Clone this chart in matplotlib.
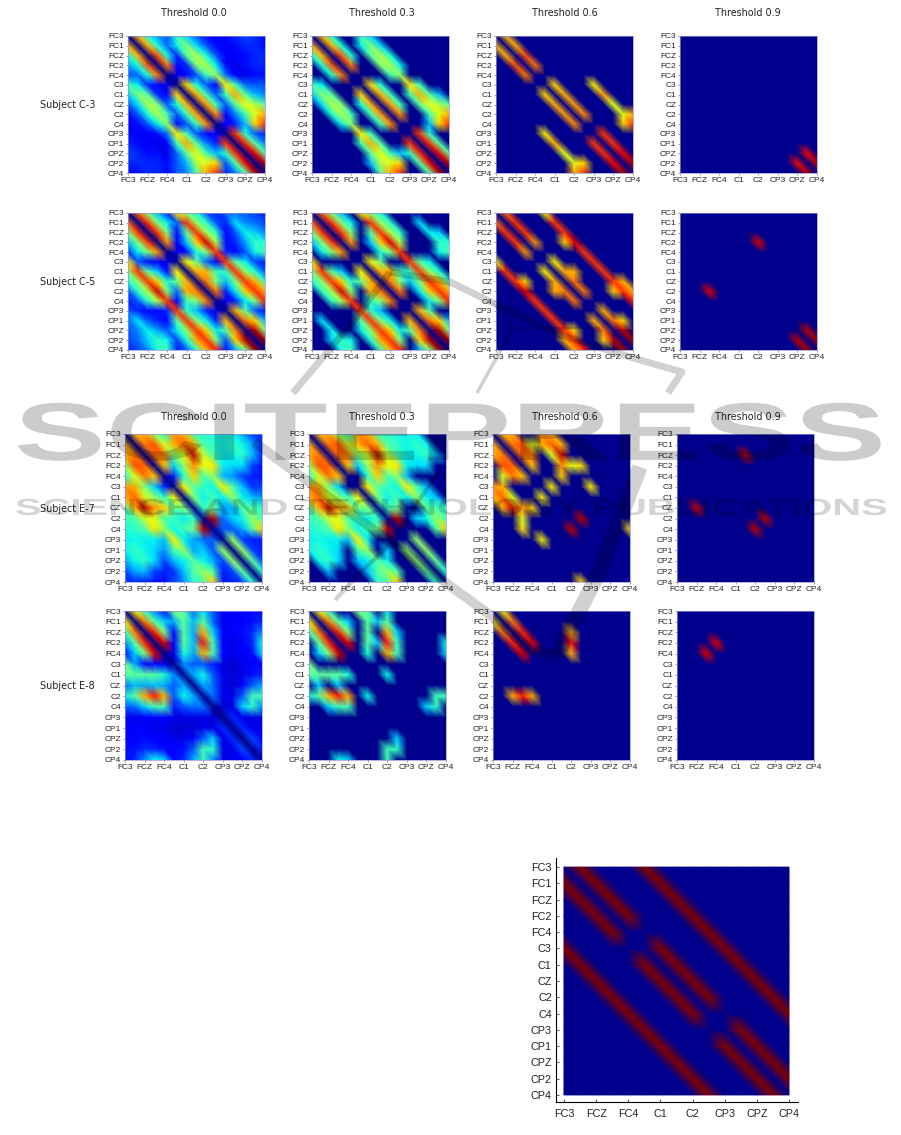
import numpy as np
import matplotlib
matplotlib.use("Agg")
import matplotlib.pyplot as plt
from matplotlib.lines import Line2D
from matplotlib.patheffects import AbstractPathEffect
from matplotlib.transforms import Affine2D
from matplotlib.tri import Triangulation

plt.rcParams["font.family"] = ["Liberation Sans", "DejaVu Sans"]

y_labels = ["FC3", "FC1", "FCZ", "FC2", "FC4", "C3", "C1", "CZ", "C2", "C4",
            "CP3", "CP1", "CPZ", "CP2", "CP4"]
x_labels = ["FC3", "FCZ", "FC4", "C1", "C2", "CP3", "CPZ", "CP4"]
thresholds = [0.0, 0.3, 0.6, 0.9]

# upper triangles, the matrices are symmetric with a zero diagonal
c3_upper = [
    [.72, .38, .28, .20, .42, .32, .20, .12, .10, .12, .15, .18, .15, .10],
    [.72, .38, .22, .35, .50, .33, .20, .12, .10, .12, .15, .15, .12],
    [.82, .38, .15, .45, .55, .38, .20, .10, .10, .12, .15, .15],
    [.78, .12, .15, .50, .55, .35, .12, .08, .12, .15, .15],
    [.08, .10, .20, .42, .52, .22, .10, .08, .12, .12],
    [.68, .38, .20, .12, .65, .42, .22, .20, .20],
    [.72, .42, .20, .42, .72, .45, .30, .25],
    [.74, .42, .20, .45, .62, .55, .45],
    [.76, .12, .25, .42, .62, .72],
    [.10, .15, .30, .68, .85],
    [.85, .40, .20, .15],
    [.86, .45, .25],
    [.90, .45],
    [.95],
]
c5_upper = [
    [.80, .50, .30, .15, .65, .50, .38, .20, .15, .20, .22, .20, .18, .15],
    [.85, .50, .35, .20, .85, .52, .40, .20, .15, .33, .25, .22, .18],
    [.85, .50, .12, .45, .85, .55, .40, .12, .20, .35, .32, .25],
    [.75, .10, .32, .68, .92, .55, .12, .15, .28, .40, .38],
    [.08, .12, .38, .50, .85, .15, .12, .20, .36, .42],
    [.65, .48, .22, .10, .85, .45, .35, .18, .15],
    [.72, .72, .42, .40, .85, .52, .38, .20],
    [.78, .50, .30, .50, .85, .72, .42],
    [.78, .15, .35, .68, .85, .72],
    [.08, .15, .35, .50, .88],
    [.72, .45, .20, .12],
    [.78, .68, .30],
    [.95, .50],
    [.97],
]
e7_upper = [
    [.72, .72, .52, .40, .75, .72, .44, .40, .38, .35, .35, .28, .18, .16],
    [.78, .82, .60, .72, .80, .72, .44, .40, .36, .40, .36, .28, .16],
    [.80, .78, .50, .60, .95, .58, .44, .35, .36, .40, .30, .14],
    [.70, .32, .52, .75, .62, .66, .35, .33, .33, .18, .12],
    [.15, .40, .68, .44, .52, .30, .26, .18, .14, .12],
    [.65, .46, .40, .36, .65, .44, .30, .16, .18],
    [.50, .35, .42, .35, .52, .35, .30, .26],
    [.40, .48, .28, .28, .44, .44, .40],
    [.95, .22, .32, .36, .52, .44],
    [.20, .20, .28, .44, .68],
    [.52, .18, .14, .14],
    [.52, .18, .14],
    [.46, .18],
    [.40],
]
e8_upper = [
    [.65, .42, .25, .12, .48, .45, .22, .35, .20, .10, .10, .10, .12, .12],
    [.78, .45, .32, .28, .45, .30, .45, .22, .08, .10, .10, .12, .15],
    [.87, .50, .12, .45, .28, .72, .32, .10, .10, .12, .15, .25],
    [.92, .10, .45, .30, .88, .42, .10, .08, .10, .15, .36],
    [.08, .38, .28, .72, .42, .10, .08, .10, .12, .33],
    [.25, .20, .20, .15, .08, .06, .08, .10, .10],
    [.28, .36, .20, .08, .06, .08, .12, .15],
    [.28, .22, .08, .06, .10, .20, .28],
    [.22, .08, .08, .20, .42, .42],
    [.06, .08, .32, .40, .25],
    [.15, .08, .08, .08],
    [.15, .08, .08],
    [.18, .10],
    [.15],
]
# the binary grid of the bottom panel
grid_upper = [
    [1, 0, 0, 0, 1, 0, 0, 0, 0, 0, 0, 0, 0, 0],
    [1, 0, 0, 0, 1, 0, 0, 0, 0, 0, 0, 0, 0],
    [1, 0, 0, 0, 1, 0, 0, 0, 0, 0, 0, 0],
    [1, 0, 0, 0, 1, 0, 0, 0, 0, 0, 0],
    [0, 0, 0, 0, 1, 0, 0, 0, 0, 0],
    [1, 0, 0, 0, 1, 0, 0, 0, 0],
    [1, 0, 0, 0, 1, 0, 0, 0],
    [1, 0, 0, 0, 1, 0, 0],
    [1, 0, 0, 0, 1, 0],
    [0, 0, 0, 0, 1],
    [1, 0, 0, 0],
    [1, 0, 0],
    [1, 0],
    [1],
]

subjects = ["Subject C-3", "Subject C-5", "Subject E-7", "Subject E-8"]
subject_data = [c3_upper, c5_upper, e7_upper, e8_upper]

W, H = 901, 1135
n = len(y_labels)
rows, cols = np.mgrid[0:n, 0:n]
triangles = []
for r in range(n - 1):
    for c in range(n - 1):
        a, b, d, e = r*n + c, r*n + c + 1, (r+1)*n + c, (r+1)*n + c + 1
        triangles += [[a, e, b], [a, d, e]]
mesh = Triangulation(cols.ravel(), rows.ravel(), np.array(triangles))


def symmetric(upper):
    m = np.zeros((n, n))
    for i, row in enumerate(upper):
        m[i, i+1:] = row
    return m + m.T


def surface(ax, m):
    # colours are blended between the nodes, like a Gouraud shaded surface
    ax.tripcolor(mesh, m.ravel(), shading="gouraud", cmap="jet", vmin=-0.015, vmax=1)


def box(x0, y0, x1, y1):
    return [x0/W, 1 - y1/H, (x1-x0)/W, (y1-y0)/H]


class StretchX(AbstractPathEffect):
    def __init__(self, sx, x0):
        super().__init__()
        self.sx, self.x0 = sx, x0

    def draw_path(self, renderer, gc, tpath, affine, rgbFace=None):
        wide = Affine2D().translate(-self.x0, 0).scale(self.sx, 1).translate(self.x0, 0)
        renderer.draw_path(gc, tpath, affine + wide, rgbFace)


fig = plt.figure(figsize=(W/100, H/100), dpi=100)

col_x = [[128, 312, 496, 680], [128, 312, 496, 680],
         [125, 309, 493, 677], [125, 309, 493, 677]]
row_y = [(36, 173), (213, 350), (434, 582), (611, 760)]
label_y = [105, 282, 509, 686]

for i, upper in enumerate(subject_data):
    m = symmetric(upper)
    y0, y1 = row_y[i]
    for j, t in enumerate(thresholds):
        x0 = col_x[i][j]
        ax = fig.add_axes(box(x0, y0, x0 + 137, y1))
        surface(ax, np.where(m >= t, m, 0))
        ax.set_xlim(0, n-1)
        ax.set_ylim(n-1, 0)
        ax.set_xticks(range(0, n, 2), x_labels, fontsize=6, color="#222222")
        ax.set_yticks(range(n), y_labels, fontsize=6, color="#222222")
        ax.tick_params(length=1.5, width=0.4, pad=1.2, color="#555555")
        for s in ax.spines.values():
            s.set_color("#8f8fd8")
            s.set_linewidth(0.5)
    fig.text(40/W, 1 - label_y[i]/H, subjects[i], family="DejaVu Sans",
             fontsize=6.9, va="center", color="#222222")

title_x = [194, 382, 565, 748]
for j, t in enumerate(thresholds):
    for y in (13, 417):
        fig.text(title_x[j]/W, 1 - y/H, f"Threshold {t:.1f}", family="DejaVu Sans",
                 fontsize=6.9, ha="center", va="center", color="#222222")

# bottom panel with its detached axes
step = (789 - 564) / (n - 1)
ax = fig.add_axes(box(556, 858, 798, 1102))
surface(ax, symmetric(grid_upper))
ax.set_xlim(-(564-556)/step, n-1 + (798-789)/step)
ax.set_ylim(n-1 + (1102-1095)/step, -(867-858)/step)
ax.set_xticks(range(0, n, 2), x_labels, fontsize=7.8, color="#222222")
ax.set_yticks(range(n), y_labels, fontsize=7.8, color="#222222")
ax.tick_params(length=2.5, width=0.5, direction="in")
ax.tick_params(axis="x", pad=5)
ax.tick_params(axis="y", pad=3)
ax.spines["top"].set_visible(False)
ax.spines["right"].set_visible(False)
for s in ("left", "bottom"):
    ax.spines[s].set_linewidth(0.8)

# publisher watermark over everything
wm = dict(color="k", zorder=10, va="baseline", family="Liberation Sans", fontweight="bold")
fig.text(14/W, 1 - 460/H, "SCITEPRESS", fontsize=59, alpha=0.2,
         path_effects=[StretchX(1.68, 14)], **wm)
fig.text(15/W, 1 - 515/H, "SCIENCE AND TECHNOLOGY PUBLICATIONS", fontsize=16.8, alpha=0.17,
         path_effects=[StretchX(1.71, 15)], **wm)
logo = [
    ([293, 350, 390], [393, 325, 272], 5),
    ([390, 450, 493, 560, 633, 682, 668], [272, 282, 303, 335, 358, 372, 393], 5),
    ([477, 513], [393, 328], 2.5),
    ([493, 513, 557, 600], [303, 328, 328, 328], 1.2),
    ([254, 446, 493, 530, 557], [442, 583, 617, 650, 655], 7),
    ([557, 600, 640], [655, 570, 467], 11),
    ([440, 387, 363, 335], [470, 547, 570, 600], 3),
]
for xs, ys, lw in logo:
    fig.add_artist(Line2D([x/W for x in xs], [1 - y/H for y in ys], color="k",
                          alpha=0.18, lw=lw, zorder=10, solid_capstyle="butt",
                          transform=fig.transFigure))

fig.savefig("out.png", dpi=100)
